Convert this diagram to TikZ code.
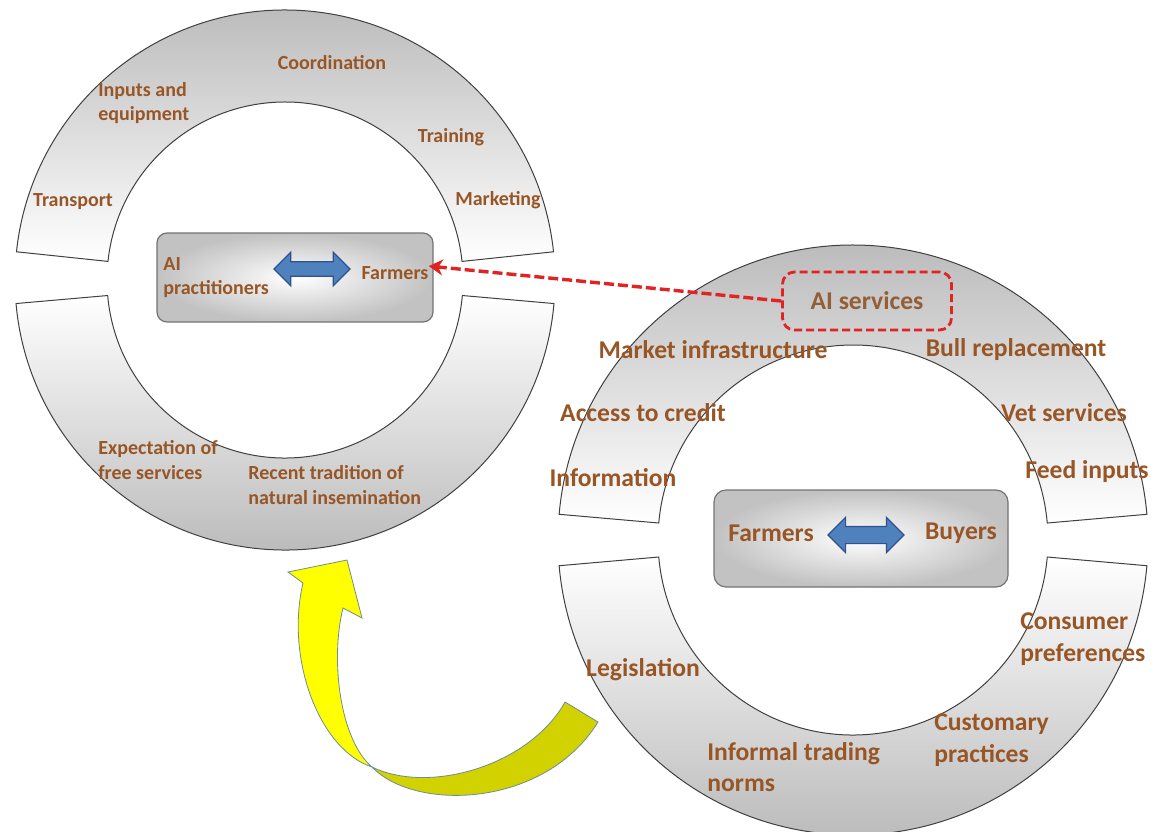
\documentclass[tikz,border=0pt]{standalone}
\usepackage{fontspec}
\setmainfont{Carlito}
\usetikzlibrary{shapes.arrows,arrows.meta,calc}

\begin{document}
\begin{tikzpicture}[x=0.5pt,y=-0.5pt,
    ringtop/.style={draw=black!75,line width=0.5pt,top color=gray!55,bottom color=white},
    ringbot/.style={draw=black!75,line width=0.5pt,top color=white,bottom color=gray!55},
    hubbox/.style={draw=black!55,line width=0.6pt,rounded corners=5pt,inner color=white,outer color=gray!48},
    factor/.style={text=FACTOR,font=\bfseries\fontsize{10}{12.3}\selectfont,inner sep=0pt,align=left},
    bigfactor/.style={text=FACTOR,font=\bfseries\fontsize{12.8}{15.8}\selectfont,inner sep=0pt,align=left},
    swaparrow/.style={double arrow,draw=ARROWEDGE,fill=ARROWFILL,line width=0.6pt,double arrow head extend=4.8pt,minimum height=38pt,inner sep=3.3pt},
    connector/.style={draw=REDDASH,line width=1.7pt,dash pattern=on 5pt off 2pt,-{Stealth[length=7pt,width=8pt]}},
    bentarrow/.style={draw=ARROWRIM,line width=0.4pt}]
    \definecolor{FACTOR}{RGB}{152,86,38}
    \definecolor{REDDASH}{RGB}{225,35,35}
    \definecolor{ARROWFILL}{RGB}{79,129,189}
    \definecolor{ARROWEDGE}{RGB}{47,82,143}
    \definecolor{YELLOWBRIGHT}{RGB}{255,255,0}
    \definecolor{YELLOWDARK}{RGB}{210,210,0}
    \definecolor{ARROWRIM}{RGB}{110,140,150}
    \useasboundingbox (0,0) rectangle (1154,831);
    \coordinate (cL) at (285,280);
    \coordinate (cR) at (853,540);
    \path[ringtop] ($(cL)+(186:270)$) arc[start angle=186,end angle=354,radius=270] -- ($(cL)+(354:178)$) arc[start angle=354,end angle=186,radius=178] -- cycle;
    \path[ringbot] ($(cL)+(5:270)$) arc[start angle=5,end angle=175,radius=270] -- ($(cL)+(175:178)$) arc[start angle=175,end angle=5,radius=178] -- cycle;
    \path[ringtop] ($(cR)+(185:295)$) arc[start angle=185,end angle=355,radius=295] -- ($(cR)+(355:195)$) arc[start angle=355,end angle=185,radius=195] -- cycle;
    \path[ringbot] ($(cR)+(5:295)$) arc[start angle=5,end angle=175,radius=295] -- ($(cR)+(175:195)$) arc[start angle=175,end angle=5,radius=195] -- cycle;
    \node[hubbox,minimum width=138pt,minimum height=44.5pt] (hubL) at (295,277.5) {};
    \node[hubbox,rounded corners=6pt,minimum width=147pt,minimum height=48.5pt] (hubR) at (861,538.5) {};
    \node[factor,anchor=west] (aiL) at (163,277.5) {AI\\practitioners};
    \node[factor] (farmL) at (395,273) {Farmers};
    \node[swaparrow] (swapL) at (312,269) {};
    \node[bigfactor] (farmR) at (771,533) {Farmers};
    \node[bigfactor] (buyR) at (961,533) {Buyers};
    \node[swaparrow,inner sep=4pt,double arrow head extend=4.5pt] (swapR) at (866,535) {};
    \node[factor] (coord) at (332,63) {Coordination};
    \node[factor,anchor=west] (inputs) at (98,103) {Inputs and\\equipment};
    \node[factor] (train) at (451,137) {Training};
    \node[factor] (transp) at (73,202) {Transport};
    \node[factor] (market) at (498,200) {Marketing};
    \node[factor,anchor=west] (expect) at (98,460) {Expectation of\\free services};
    \node[factor,anchor=west] (recent) at (248,485) {Recent tradition of\\natural insemination};
    \node[bigfactor,text=FACTOR!80!gray,draw=REDDASH,line width=1.4pt,dash pattern=on 4pt off 2pt,rounded corners=6pt,minimum width=84.5pt,minimum height=29pt] (aisvc) at (867,301) {AI services};
    \node[bigfactor] (mktinf) at (713,350) {Market infrastructure};
    \node[bigfactor] (bull) at (1016,350) {Bull replacement};
    \node[bigfactor] (credit) at (643,413) {Access to credit};
    \node[bigfactor] (vet) at (1064,413) {Vet services};
    \node[bigfactor] (info) at (613,478) {Information};
    \node[bigfactor] (feed) at (1087,472) {Feed inputs};
    \node[bigfactor,anchor=west] (consumer) at (1020,639) {Consumer\\preferences};
    \node[bigfactor] (legis) at (643,670) {Legislation};
    \node[bigfactor,anchor=west] (custom) at (934,740) {Customary\\practices};
    \node[bigfactor,anchor=west] (informal) at (707,767) {Informal trading\\norms};
    \draw[connector] (aisvc.west) -- (farmL.north east);
    \path[bentarrow,fill=YELLOWDARK] (372,767) .. controls (415,812) and (545,808) .. (598,722) -- (565,702) .. controls (530,765) and (430,795) .. (372,767) -- cycle;
    \path[bentarrow,fill=YELLOWBRIGHT] (372,767) .. controls (340,740) and (330,660) .. (343,608) -- (362,618) -- (347,560) -- (288,572) -- (303,583) .. controls (285,660) and (320,750) .. (372,767) -- cycle;
\end{tikzpicture}
\end{document}
